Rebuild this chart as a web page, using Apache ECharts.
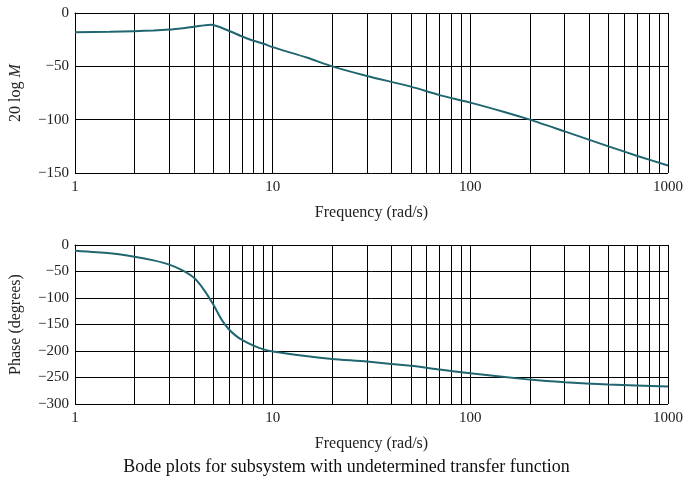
<!DOCTYPE html>
<html>
<head>
<meta charset="utf-8">
<script src="https://cdn.jsdelivr.net/npm/echarts@6/dist/echarts.min.js"></script>
<style>
  html, body { margin: 0; padding: 0; background: #fff; }
  #chart { width: 693px; height: 481px; }
</style>
</head>
<body>
<div id="chart"></div>
<script>
var magFreq = [1, 1.5, 2, 2.5, 3, 3.5, 4, 4.5, 4.85, 5.2, 6, 7, 8, 9, 10, 15, 20, 30, 50, 70, 100, 150, 200, 300, 500, 700, 1000];
var magDb = [-18, -17.6, -17, -16.4, -15.5, -14.2, -12.8, -11.6, -11, -12.2, -16.6, -22, -26, -28.8, -32, -42, -50, -59, -69, -77, -84, -93, -100, -111, -125, -134, -143];
var phaseFreq = [1, 1.5, 2, 2.5, 3, 3.5, 4, 4.5, 5, 5.5, 6, 6.5, 7, 8, 9, 10, 15, 20, 30, 50, 70, 100, 200, 300, 500, 1000];
var phaseDeg = [-10.7, -15.5, -22, -29, -37, -48, -62, -85, -112, -140, -159, -171, -179, -190, -197, -201, -210, -215, -220, -228, -235, -242, -254, -259, -263, -267];
var minorFreqs = [2, 3, 4, 5, 6, 7, 8, 9, 20, 30, 40, 50, 60, 70, 80, 90, 200, 300, 400, 500, 600, 700, 800, 900];

var serif = 'Liberation Serif';
var lineColor = '#1f6670';

function minus (v) {
  return String(v).replace('-', '\u2212');
}

function xAxisOf (gridIndex) {
  return {
    gridIndex: gridIndex,
    type: 'log',
    logBase: 10,
    min: 1,
    max: 1000,
    name: 'Frequency (rad/s)',
    nameLocation: 'middle',
    nameGap: 32,
    nameTextStyle: { fontFamily: serif, fontSize: 16, color: '#222' },
    axisLine: { show: true, lineStyle: { color: '#000', width: 1 } },
    axisTick: { show: false },
    axisLabel: { fontFamily: serif, fontSize: 15, color: '#222', margin: 7, formatter: function (v) { return String(v); } },
    splitLine: { show: true, lineStyle: { color: '#000', width: 1 } }
  };
}

function yAxisOf (gridIndex, min, name) {
  return {
    gridIndex: gridIndex,
    type: 'value',
    min: min,
    max: 0,
    interval: 50,
    name: name,
    nameLocation: 'middle',
    nameGap: 51,
    nameTextStyle: {
      fontFamily: serif, fontSize: 16, color: '#222',
      rich: { i: { fontFamily: serif, fontSize: 16, fontStyle: 'italic', color: '#222' } }
    },
    axisLine: { show: true, lineStyle: { color: '#000', width: 1 } },
    axisTick: { show: false },
    axisLabel: { fontFamily: serif, fontSize: 15, color: '#222', margin: 6, formatter: minus },
    splitLine: { show: true, lineStyle: { color: '#000', width: 1 } }
  };
}

function minorLines () {
  return {
    silent: true,
    symbol: 'none',
    label: { show: false },
    lineStyle: { color: '#000', width: 1, type: 'solid' },
    data: minorFreqs.map(function (f) { return { xAxis: f }; })
  };
}

var chart = echarts.init(document.getElementById('chart'));
chart.setOption({
  animation: false,
  title: {
    text: 'Bode plots for subsystem with undetermined transfer function',
    left: 'center',
    top: 453,
    textStyle: { fontFamily: serif, fontSize: 18, fontWeight: 'normal', color: '#111' }
  },
  grid: [
    { left: 72, top: 13, width: 596, height: 160 },
    { left: 72, top: 245, width: 596, height: 159 }
  ],
  xAxis: [xAxisOf(0), xAxisOf(1)],
  yAxis: [
    yAxisOf(0, -150, '20 log {i|M}'),
    yAxisOf(1, -300, 'Phase (degrees)')
  ],
  series: [
    {
      type: 'line',
      xAxisIndex: 0,
      yAxisIndex: 0,
      data: magFreq.map(function (f, i) { return [f, magDb[i]]; }),
      smooth: 0.25,
      showSymbol: false,
      lineStyle: { color: lineColor, width: 2 },
      z: 5,
      markLine: minorLines()
    },
    {
      type: 'line',
      xAxisIndex: 1,
      yAxisIndex: 1,
      data: phaseFreq.map(function (f, i) { return [f, phaseDeg[i]]; }),
      smooth: 0.25,
      showSymbol: false,
      lineStyle: { color: lineColor, width: 2 },
      z: 5,
      markLine: minorLines()
    }
  ]
});
</script>
</body>
</html>
